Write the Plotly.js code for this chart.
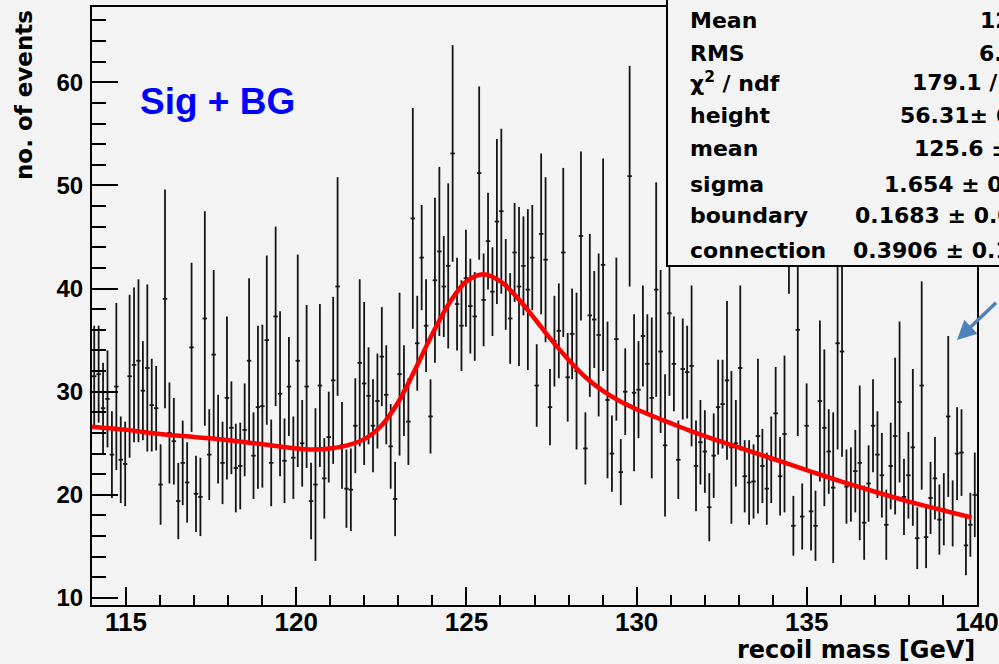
<!DOCTYPE html>
<html>
<head>
<meta charset="utf-8">
<script src="https://cdn.plot.ly/plotly-3.0.1.min.js"></script>
<style>
  html, body { margin: 0; padding: 0; background: #f3f3f3; }
  #chart { width: 999px; height: 664px; }
</style>
</head>
<body>
<div id="chart"></div>
<script>
// ---------------- data ----------------
const histLow = 114;
const binWidth = 0.13;

const counts = [
  31.5, 31.7, 28.4, 29.3, 23.9, 30.5, 23.4, 23.0, 31.5, 32.6, 33.0, 30.1, 32.3, 28.7, 28.4, 21.0, 39.0, 26.0, 25.2, 19.4,
  23.1, 21.2, 34.3, 20.1, 19.8, 37.1, 23.9, 33.6, 25.4, 23.1, 29.4, 26.5, 22.6, 22.8,
  26.3, 33.0, 23.8, 28.5, 28.6, 35.0, 23.1, 37.3, 29.8, 23.3, 30.5, 23.6, 33.0, 25.0, 30.5, 19.4, 21.0, 30.6, 21.6, 25.6,
  31.1, 40.2, 24.8, 20.6, 20.5, 26.7, 32.8, 30.8, 29.6, 26.7, 29.1, 33.4, 29.7,
  24.7, 19.6, 31.7, 30.1, 27.1, 46.8, 34.7, 43.0, 36.4, 27.6, 40.8, 43.6, 40.2, 42.2, 53.1, 38.5, 36.4, 41.0, 38.3, 37.3,
  51.2, 38.9, 44.6, 39.7, 46.5, 47.5, 40.4, 37.1, 43.5, 40.2, 42.2, 39.9, 43.0, 30.6,
  45.3, 42.8, 28.5, 34.9, 35.9, 43.5, 31.4, 35.6, 32.0, 45.1, 24.5, 37.4, 37.0, 35.5, 42.3, 29.2, 24.0, 35.1, 22.2, 30.0,
  50.9, 29.9, 30.2, 35.4, 32.7, 29.4, 39.9, 33.9, 24.8, 37.6, 32.7, 23.4, 32.2,
  31.9, 32.5, 22.8, 25.1, 24.2, 18.8, 23.8, 28.5, 28.8, 31.1, 24.6, 25.0, 32.3, 21.8, 21.2, 21.3, 25.7, 22.8, 20.6, 23.4,
  27.9, 21.8, 25.9, 49.5, 17.0, 36.0, 17.9, 26.7, 18.4, 17.0, 29.1, 26.5, 24.2, 20.7,
  34.7, 33.9, 20.8, 21.0, 22.3, 23.1, 17.3, 21.1, 26.7, 23.9, 21.9, 17.1, 22.8, 25.7, 29.0, 19.8, 21.9, 24.6, 15.8, 30.6,
  15.9, 19.7, 21.6, 17.6, 18.6, 27.6, 18.2, 24.0, 24.1, 15.1, 17.1, 20.0
];

const errors = [
  4.9, 4.7, 4.4, 4.7, 4.2, 8.1, 4.2, 4.1, 7.9, 7.5, 7.9, 4.8, 8.1, 4.5, 4.1, 3.9, 10.6, 4.9, 4.2, 3.7,
  4.1, 3.9, 8.2, 3.7, 3.8, 10.4, 4.4, 8.2, 4.3, 4.0, 7.9, 4.5, 4.3, 4.2,
  4.5, 8.0, 4.2, 7.9, 7.9, 8.2, 4.2, 8.7, 8.0, 4.1, 4.8, 4.0, 10.3, 4.2, 7.9, 3.7, 7.4, 7.9, 3.9, 4.4,
  8.1, 10.6, 4.2, 3.8, 4.0, 4.6, 8.1, 7.9, 4.7, 4.5, 4.6, 4.8, 4.8,
  4.1, 3.6, 7.9, 4.4, 4.2, 10.7, 4.6, 5.1, 4.5, 3.6, 8.0, 8.2, 4.9, 8.0, 10.5, 4.5, 4.4, 4.7, 4.6, 4.3,
  8.4, 4.5, 4.7, 4.3, 8.0, 8.0, 4.4, 4.4, 4.8, 7.7, 4.8, 7.8, 5.1, 4.0,
  7.8, 8.0, 3.7, 4.4, 4.6, 8.2, 4.3, 4.4, 7.6, 8.2, 3.5, 7.9, 4.7, 7.9, 10.3, 7.6, 3.7, 7.9, 3.2, 4.2,
  10.7, 7.6, 4.7, 4.9, 4.8, 7.8, 10.4, 7.9, 6.9, 8.0, 4.6, 3.8, 4.9,
  4.5, 7.8, 4.4, 4.1, 4.0, 3.3, 4.1, 4.6, 4.3, 7.7, 7.4, 4.2, 8.0, 3.5, 4.1, 3.6, 7.5, 3.6, 3.5, 4.2,
  4.5, 3.8, 7.6, 10.0, 2.9, 10.3, 3.2, 4.1, 3.8, 3.4, 7.8, 7.6, 4.1, 7.3,
  10.3, 10.2, 3.6, 3.6, 4.0, 7.5, 3.6, 3.7, 4.5, 4.2, 4.1, 3.4, 4.2, 7.6, 7.8, 3.7, 4.2, 7.6, 3.0, 10.1,
  3.0, 3.5, 4.0, 3.4, 3.5, 7.8, 3.2, 4.5, 4.2, 2.9, 3.1, 4.1
];

// fitted curve
const fitX = [114.0, 115.0, 116.0, 117.0, 118.0, 119.0, 120.0, 120.5, 121.0, 121.5, 122.0, 122.5, 123.0, 123.5,
              124.0, 124.5, 125.0, 125.5, 126.0, 126.5, 127.0, 127.5, 128.0, 128.5, 129.0, 129.5, 130.0, 130.5,
              131.0, 131.5, 132.0, 133.0, 134.0, 135.0, 136.0, 137.0, 138.0, 139.0, 139.84];
const fitY = [26.6, 26.3, 25.9, 25.6, 25.3, 24.9, 24.5, 24.4, 24.5, 24.8, 25.4, 26.7, 29.0, 32.2,
              35.6, 38.6, 40.7, 41.4, 40.7, 39.1, 37.1, 35.0, 33.1, 31.4, 30.1, 29.1, 28.3, 27.6,
              26.95, 26.3, 25.7, 24.6, 23.5, 22.4, 21.3, 20.3, 19.35, 18.5, 17.8];

const statLabels = ["Mean", "RMS", "\u03c7<sup>2</sup> / ndf", "height", "mean", "sigma", "boundary", "connection"];
const statValues = ["12", "6.", "179.1 /", "56.31\u00b1 6", "125.6 \u00b1", "1.654 \u00b1 0.", "0.1683 \u00b1 0.0", "0.3906 \u00b1 0.1"];

const xTitle = "recoil mass [GeV]";
const yTitle = "no. of events";
const label = "Sig + BG";

// ---------------- layout helpers ----------------
const W = 999, H = 664;
const L = 92, R = 977, T = 7, B = 605;
const px2x = p => (p - L) / (R - L);
const px2y = p => (B - p) / (B - T);

const binCenters = counts.map((_, i) => histLow + (i + 0.5) * binWidth);

const statRowY = [20.6, 54, 82.3, 115, 149, 184, 215.6, 250.6];
const statValX = [978, 977, 910, 898, 912, 882, 853, 851];

const statFont = {family: "DejaVu Sans", size: 22, color: "#000", weight: "bold"};

const annotations = [];
statLabels.forEach((t, i) => {
  annotations.push({xref: "paper", yref: "paper", x: px2x(688), y: px2y(statRowY[i]),
    xanchor: "left", yanchor: "middle", text: t, showarrow: false, font: statFont});
  annotations.push({xref: "paper", yref: "paper", x: px2x(statValX[i]), y: px2y(statRowY[i]),
    xanchor: "left", yanchor: "middle", text: statValues[i], showarrow: false, font: statFont});
});
annotations.push({xref: "paper", yref: "paper", x: px2x(138), y: px2y(101), xanchor: "left", yanchor: "middle",
  text: label, showarrow: false,
  font: {family: "Liberation Sans", size: 37, color: "#0000ff", weight: "bold"}});
annotations.push({xref: "paper", yref: "paper", x: px2x(977), y: px2y(650), xanchor: "right", yanchor: "middle",
  text: xTitle, showarrow: false, font: {family: "DejaVu Sans", size: 24, color: "#000", weight: "bold"}});
annotations.push({xref: "paper", yref: "paper", x: px2x(24), y: px2y(95), xanchor: "center", yanchor: "middle",
  text: yTitle, textangle: -90, showarrow: false, font: {family: "DejaVu Sans", size: 23, color: "#000", weight: "bold"}});
annotations.push({xref: "paper", yref: "paper", x: px2x(957), y: px2y(340), text: " ", showarrow: true,
  ax: 50, ay: -40, arrowcolor: "#4f81bd", arrowwidth: 3.5, arrowhead: 2, arrowsize: 1.1});

const traces = [
  {
    type: "scatter", mode: "markers", x: binCenters, y: counts,
    marker: {size: 1, color: "#1a1a1a"},
    error_y: {type: "data", array: errors, visible: true, color: "#151515", thickness: 1.8, width: 0},
    error_x: {type: "constant", value: binWidth / 2, visible: true, color: "#151515", thickness: 1.8, width: 0},
    hoverinfo: "skip"
  },
  {
    type: "scatter", mode: "lines", x: fitX, y: fitY,
    line: {color: "#ff0000", width: 4.5, shape: "spline", smoothing: 1},
    hoverinfo: "skip"
  }
];

const layout = {
  width: W, height: H,
  margin: {l: L, r: W - R, t: T, b: H - B, pad: 0},
  paper_bgcolor: "#f3f3f3", plot_bgcolor: "#f3f3f3",
  showlegend: false,
  xaxis: {
    range: [114, 140], showgrid: false, zeroline: false,
    showline: true, mirror: true, linecolor: "#000", linewidth: 2,
    ticks: "inside", ticklen: 18, tickwidth: 2, tickcolor: "#000",
    tick0: 0, dtick: 5, ticklabelstandoff: -7,
    tickfont: {family: "Liberation Sans", size: 26, color: "#000", weight: "bold"},
    minor: {ticks: "inside", dtick: 1, ticklen: 10, tickwidth: 2, tickcolor: "#000", showgrid: false}
  },
  yaxis: {
    range: [9.32, 67.3], showgrid: false, zeroline: false,
    showline: true, mirror: true, linecolor: "#000", linewidth: 2,
    ticks: "inside", ticklen: 26, tickwidth: 2, tickcolor: "#000",
    tick0: 0, dtick: 10, ticklabelstandoff: 2,
    tickfont: {family: "Liberation Sans", size: 24, color: "#000", weight: "bold"},
    minor: {ticks: "inside", dtick: 2, ticklen: 14, tickwidth: 2, tickcolor: "#000", showgrid: false}
  },
  shapes: [{
    type: "rect", xref: "paper", yref: "paper", layer: "above",
    x0: px2x(667), x1: 1.5, y0: px2y(266), y1: 1.5,
    line: {color: "#000", width: 2}, fillcolor: "#f3f3f3"
  }],
  annotations: annotations
};

Plotly.newPlot("chart", traces, layout, {staticPlot: true, displayModeBar: false});
</script>
</body>
</html>
